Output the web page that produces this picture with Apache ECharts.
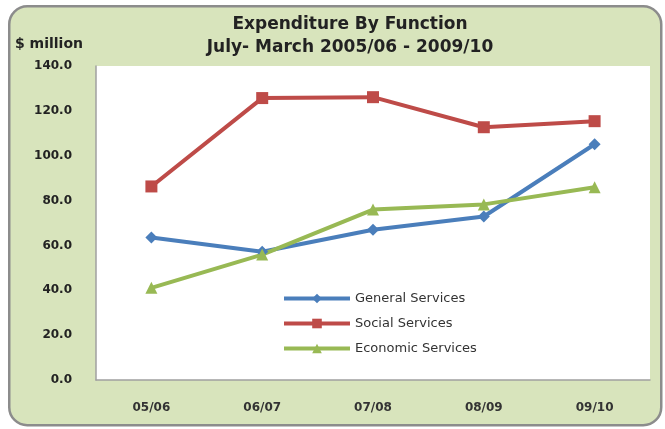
<!DOCTYPE html>
<html><head><meta charset="utf-8">
<script src="https://cdn.jsdelivr.net/npm/echarts@6/dist/echarts.min.js"></script>
<style>html,body{margin:0;padding:0;background:#fff}#c{width:665px;height:429px}</style>
</head><body><div id="c"></div>
<script>
const categories = ['05/06','06/07','07/08','08/09','09/10'];
const generalServices = [63.5, 57.2, 67.0, 72.9, 105.1];
const socialServices = [86.3, 125.7, 126.1, 112.7, 115.4];
const economicServices = [41.1, 55.9, 76.0, 78.3, 85.9];
const seriesNames = ['General Services','Social Services','Economic Services'];
const colors = ['#4a7ebb','#be4b48','#98b954'];

const chart = echarts.init(document.getElementById('c'));
chart.setOption({
  animation:false,
  graphic:[
    {type:'rect', left:8, top:5, shape:{width:652, height:419, r:18},
     style:{fill:'#d8e4bc', stroke:'#8c8c8c', lineWidth:2.5}, z:-10},
    {type:'rect', left:96, top:66, shape:{width:554, height:314},
     style:{fill:'#ffffff'}, z:-9},
    {type:'text', left:15, top:37, style:{text:'$ million', font:'bold 14px "DejaVu Sans"', fill:'#222'}}
  ],
  title:{
    text:'Expenditure By Function\nJuly- March 2005/06 - 2009/10',
    left:345, top:8, textAlign:'center',
    textStyle:{fontFamily:'"DejaVu Sans"', fontWeight:'bold', fontSize:17, color:'#222', lineHeight:23}
  },
  legend:{
    orient:'vertical', left:277, top:287, itemGap:12,
    itemWidth:66, itemHeight:12,
    data:seriesNames,
    lineStyle:{width:4},
    textStyle:{fontFamily:'"DejaVu Sans"', fontSize:13, color:'#333'}
  },
  grid:{left:96, right:15, top:66, bottom:49},
  xAxis:{
    type:'category', data:categories, boundaryGap:true,
    axisLine:{lineStyle:{color:'#a0a0a0', width:1.5}},
    axisTick:{show:false},
    axisLabel:{margin:22, fontFamily:'"DejaVu Sans"', fontWeight:'bold', fontSize:12, color:'#333'}
  },
  yAxis:{
    type:'value', min:0, max:140, interval:20,
    axisLine:{show:true, lineStyle:{color:'#a0a0a0', width:1.5}},
    axisTick:{show:false},
    splitLine:{show:false},
    axisLabel:{margin:24, formatter:v=>v.toFixed(1), fontFamily:'"DejaVu Sans"', fontWeight:'bold', fontSize:12, color:'#222'}
  },
  series:[
    {name:seriesNames[0], type:'line', data:generalServices, symbol:'diamond', symbolSize:12,
     lineStyle:{width:4,color:colors[0]}, itemStyle:{color:colors[0]}},
    {name:seriesNames[1], type:'line', data:socialServices, symbol:'rect', symbolSize:12,
     lineStyle:{width:4,color:colors[1]}, itemStyle:{color:colors[1]}},
    {name:seriesNames[2], type:'line', data:economicServices, symbol:'triangle', symbolSize:12,
     lineStyle:{width:4,color:colors[2]}, itemStyle:{color:colors[2]}}
  ]
});
</script></body></html>
